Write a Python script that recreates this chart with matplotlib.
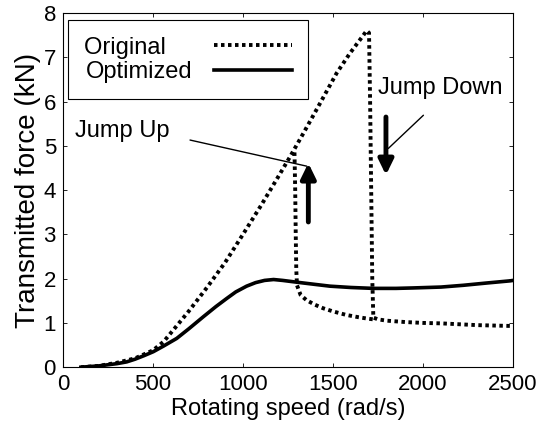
import matplotlib
matplotlib.use("Agg")
import matplotlib.pyplot as plt

plt.rcParams['font.family'] = ['Liberation Sans', 'DejaVu Sans']

# original system, upward sweep (jump down near 1720 rad/s)
orig_up_x = [100, 200, 300, 400, 500, 560, 613, 700, 800, 900, 1000, 1100, 1200, 1261,
             1335, 1428, 1520, 1594, 1660, 1687, 1700, 1706, 1712, 1718, 1724,
             1750, 1800, 1900, 2000, 2100, 2200, 2300, 2400, 2500]
orig_up_y = [0.0, 0.03, 0.1, 0.2, 0.38, 0.58, 0.84, 1.27, 1.8, 2.36, 3.0, 3.65, 4.33, 4.75,
             5.28, 5.96, 6.64, 7.09, 7.45, 7.6, 7.55, 6.0, 4.0, 2.0, 1.12,
             1.08, 1.05, 1.02, 1.0, 0.99, 0.97, 0.95, 0.94, 0.93]
# original system, downward sweep branch (jump up near 1290 rad/s)
orig_down_x = [1286, 1290, 1293, 1296, 1300, 1320, 1354, 1400, 1446, 1500, 1574, 1640, 1687, 1724]
orig_down_y = [4.85, 4.0, 3.0, 2.2, 1.85, 1.63, 1.51, 1.41, 1.33, 1.26, 1.18, 1.13, 1.1, 1.08]

opt_x = [100, 200, 300, 354, 400, 450, 502, 560, 632, 700, 780, 850, 909, 960, 1020,
         1070, 1120, 1170, 1220, 1298, 1400, 1483, 1600, 1724, 1850, 1946, 2100,
         2224, 2350, 2483, 2500]
opt_y = [0.0, 0.03, 0.08, 0.12, 0.18, 0.26, 0.35, 0.48, 0.65, 0.87, 1.14, 1.37, 1.55,
         1.7, 1.83, 1.91, 1.96, 1.98, 1.96, 1.92, 1.87, 1.83, 1.8, 1.78, 1.78, 1.79,
         1.81, 1.85, 1.9, 1.95, 1.96]

xticks = [0, 500, 1000, 1500, 2000, 2500]
yticks = [0, 1, 2, 3, 4, 5, 6, 7, 8]

fig = plt.figure(figsize=(5.47, 4.32), dpi=100)
ax = fig.add_axes([0.115, 0.150, 0.823, 0.820])

dot = (0, (0.9, 0.9))
# trailing spaces keep both labels left-aligned (legend right-aligns rows when markerfirst=False)
l1, = ax.plot(orig_up_x, orig_up_y, color='k', lw=2.8, ls=dot, label='Original    ')
ax.plot(orig_down_x, orig_down_y, color='k', lw=2.8, ls=dot)
l2, = ax.plot(opt_x, opt_y, color='k', lw=2.6, label='Optimized')

ax.set_xlim(0, 2500)
ax.set_ylim(0, 8)
ax.set_xticks(xticks)
ax.set_yticks(yticks)
ax.tick_params(direction='in', top=True, right=True, length=3, width=0.6,
               labelsize=16, pad=5)
for s in ax.spines.values():
    s.set_linewidth(0.8)
ax.set_xlabel('Rotating speed (rad/s)', fontsize=17, labelpad=2)
ax.set_ylabel('Transmitted force (kN)', fontsize=20, labelpad=2)

leg = ax.legend(handles=[l1, l2], loc='upper left', bbox_to_anchor=(0.011, 0.98),
                borderaxespad=0, fontsize=17, markerfirst=False, handlelength=3.3,
                handletextpad=0.9, labelspacing=0.1, borderpad=0.7,
                fancybox=False, framealpha=1, edgecolor='k')
leg.get_frame().set_linewidth(0.8)

# annotations
ax.text(67, 5.33, 'Jump Up', fontsize=17, ha='left', va='center')
ax.annotate('', xy=(1354, 4.54), xytext=(706, 5.13),
            arrowprops=dict(arrowstyle='-', lw=1.0, color='k', shrinkA=0, shrinkB=0))
ax.annotate('', xy=(1363, 4.61), xytext=(1363, 3.28),
            arrowprops=dict(arrowstyle='-|>,head_length=0.45,head_width=0.22', lw=3.5,
                            color='k', mutation_scale=20, shrinkA=0, shrinkB=0))

ax.text(1750, 6.3, 'Jump Down', fontsize=17, ha='left', va='center')
ax.annotate('', xy=(1807, 4.94), xytext=(2002, 5.69),
            arrowprops=dict(arrowstyle='-', lw=1.0, color='k', shrinkA=0, shrinkB=0))
ax.annotate('', xy=(1794, 4.34), xytext=(1794, 5.65),
            arrowprops=dict(arrowstyle='-|>,head_length=0.45,head_width=0.22', lw=3.5,
                            color='k', mutation_scale=20, shrinkA=0, shrinkB=0))

fig.savefig('out.png', dpi=100)
